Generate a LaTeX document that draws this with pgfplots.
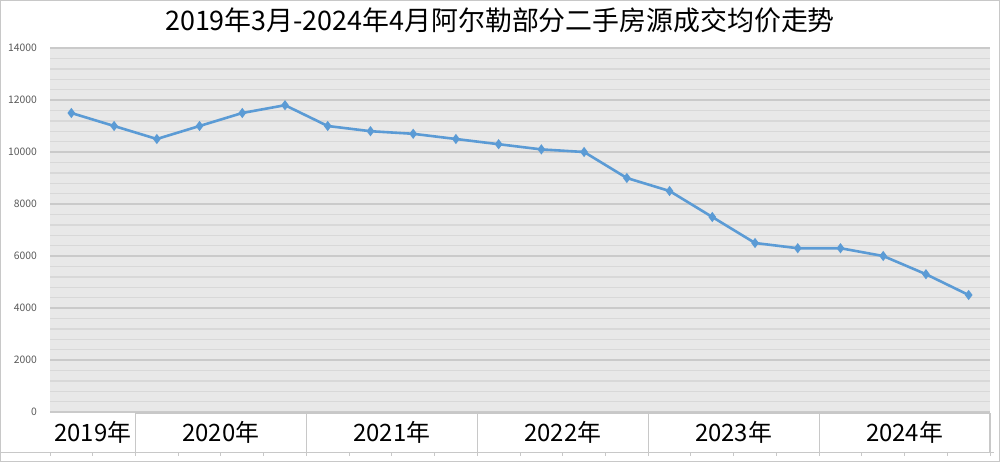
\documentclass[border=0pt]{standalone}
\usepackage{pgfplots}
\pgfplotsset{compat=1.18}
\usepackage{fontspec}
\setmainfont{Noto Sans CJK SC}
\definecolor{bgc}{HTML}{E8E8E8}
\definecolor{mingrid}{HTML}{D8D8D8}
\definecolor{majgrid}{HTML}{CACACA}
\definecolor{linec}{HTML}{5B9BD5}
\definecolor{framec}{HTML}{C8C8C8}
\begin{document}
\begin{tikzpicture}[x=1bp,y=1bp]
\path[use as bounding box] (0,0) rectangle (500,231);
\draw[framec, line width=0.7bp] (0.4,0.4) rectangle (499.6,230.6);
\node[font=\fontsize{13.5}{13.5}\selectfont] at (250,221) {2019年3月-2024年4月阿尔勒部分二手房源成交均价走势};
\begin{axis}[
  at={(25bp,25bp)}, anchor=south west, scale only axis,
  width=470bp, height=182bp,
  xmin=-0.5, xmax=21.5, ymin=0, ymax=14000,
  xtick={0.5,3.5,7.5,11.5,15.5,19.5},
  xticklabels={2019年,2020年,2021年,2022年,2023年,2024年},
  xtick style={draw=none}, ytick style={draw=none},
  xticklabel style={font=\fontsize{12}{12}\selectfont, anchor=center, yshift=-10bp},
  ytick={0,2000,...,14000}, minor y tick num=4,
  ymajorgrids, yminorgrids,
  major grid style={majgrid, line width=0.8bp},
  minor grid style={mingrid, line width=0.7bp},
  yticklabel style={font=\fontsize{5.2}{5.2}\selectfont, text=black!65, xshift=-3bp},
  scaled y ticks=false,
  /pgf/number format/assume math mode=true,
  /pgf/number format/1000 sep={},
  axis line style={draw=none},
  axis background/.style={fill=bgc},
  clip=false,
]
\addplot[color=linec, line width=1.3bp, mark=diamond*, mark size=1.5bp, mark options={fill=linec}] coordinates {
(0,11500) (1,11000) (2,10500) (3,11000) (4,11500) (5,11800)
(6,11000) (7,10800) (8,10700) (9,10500) (10,10300) (11,10100)
(12,10000) (13,9000) (14,8500) (15,7500) (16,6500) (17,6300)
(18,6300) (19,6000) (20,5300) (21,4500)
};
\end{axis}
\draw[framec, line width=0.6bp] (67.73,24.5) -- (495,24.5);
\draw[framec, line width=0.6bp] (0.4,4.6) -- (497,4.6);
\foreach \k in {2,6,10,14,18,22} {
  \draw[framec, line width=0.6bp] ({25+\k*21.3636},4.6) -- ({25+\k*21.3636},24.5);
}
\foreach \k in {0,...,22} {
  \draw[framec, line width=0.5bp] ({25+\k*21.3636},4.6) -- ({25+\k*21.3636},3.2);
}
\end{tikzpicture}
\end{document}
